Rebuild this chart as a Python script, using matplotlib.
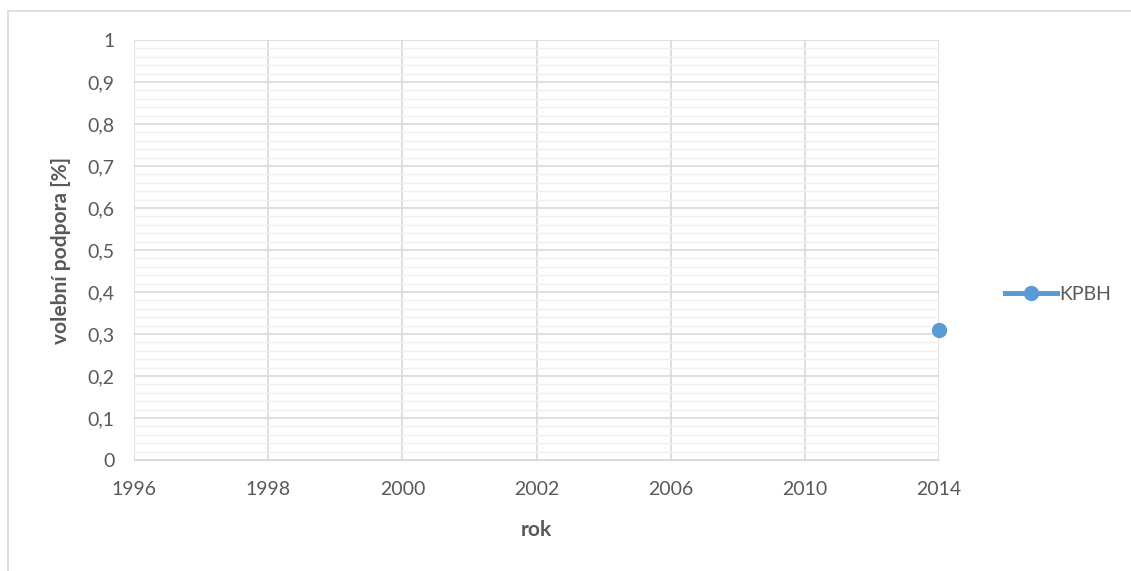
import numpy as np
import matplotlib.pyplot as plt
from matplotlib.patches import Rectangle
from matplotlib.ticker import MultipleLocator, FuncFormatter

years = ['1996', '1998', '2000', '2002', '2006', '2010', '2014']
kpbh = [np.nan, np.nan, np.nan, np.nan, np.nan, np.nan, 0.31]

plt.rcParams['font.family'] = ['Lato', 'DejaVu Sans']
txt = '#595959'
blue = '#5b9bd5'

fig = plt.figure(figsize=(11.31, 5.71), dpi=100)
fig.patches.append(Rectangle((8 / 1131, -0.1), 1.2, (571 - 11) / 571 + 0.1,
                             transform=fig.transFigure, fill=False,
                             edgecolor='#d9d9d9', linewidth=1.2))
ax = fig.add_axes([134 / 1131, 111 / 571, 805 / 1131, 420 / 571])

x = np.arange(len(years))
ax.plot(x, kpbh, color=blue, linewidth=3.6, marker='o', markersize=10,
        label='KPBH', zorder=5, clip_on=False)

ax.set_xlim(0, len(years) - 1)
ax.set_ylim(0, 1)
ax.set_xticks(x)
ax.set_xticklabels(years)
ax.yaxis.set_major_locator(MultipleLocator(0.1))
ax.yaxis.set_minor_locator(MultipleLocator(0.02))
ax.yaxis.set_major_formatter(FuncFormatter(
    lambda v, p: '{:g}'.format(round(v, 1)).replace('.', ',')))

ax.grid(which='major', axis='both', color='#d9d9d9', linewidth=1.2)
ax.grid(which='minor', axis='y', color='#efefef', linewidth=1)
ax.set_axisbelow(True)
for s in ax.spines.values():
    s.set_visible(False)
ax.spines['bottom'].set_visible(True)
ax.spines['bottom'].set_color('#d9d9d9')
ax.tick_params(which='both', length=0, colors=txt, labelsize=14)
ax.tick_params(axis='x', pad=15)
ax.tick_params(axis='y', pad=14)

ax.set_xlabel('rok', fontsize=15, fontweight='bold', color=txt, labelpad=16)
ax.set_ylabel('volební podpora [%]', fontsize=15, fontweight='bold',
              color=txt, labelpad=12)

ax.legend(loc='center left', bbox_to_anchor=(1.072, 0.395), frameon=False,
          fontsize=14, labelcolor=txt, handlelength=2.7, handletextpad=0.1,
          markerscale=1.0, borderaxespad=0)

fig.savefig('out.png', dpi=100)
